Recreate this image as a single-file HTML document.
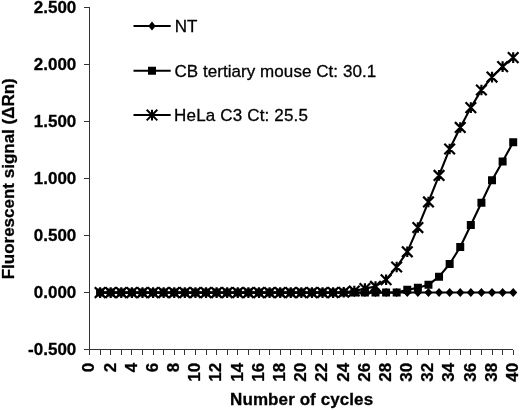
<!DOCTYPE html>
<html><head><meta charset="utf-8"><style>
html,body{margin:0;padding:0;background:#fff;width:520px;height:410px;overflow:hidden}
svg{display:block}
text{font-family:"Liberation Sans",sans-serif;stroke:#000;stroke-width:0.3px}
svg{filter:blur(0.35px)}
</style></head><body>
<svg width="520" height="410" viewBox="0 0 520 410">
<g stroke="#333" stroke-width="1" fill="none" shape-rendering="crispEdges">
<path d="M89.5 7.9V349.6H513.2"/>
<path d="M84 7.9H89.5"/>
<path d="M84 64.8H89.5"/>
<path d="M84 121.8H89.5"/>
<path d="M84 178.7H89.5"/>
<path d="M84 235.7H89.5"/>
<path d="M84 292.6H89.5"/>
<path d="M84 349.6H89.5"/>
<path d="M89.5 349.6V354.8"/>
<path d="M100.1 349.6V354.8"/>
<path d="M110.7 349.6V354.8"/>
<path d="M121.3 349.6V354.8"/>
<path d="M131.9 349.6V354.8"/>
<path d="M142.5 349.6V354.8"/>
<path d="M153.1 349.6V354.8"/>
<path d="M163.6 349.6V354.8"/>
<path d="M174.2 349.6V354.8"/>
<path d="M184.8 349.6V354.8"/>
<path d="M195.4 349.6V354.8"/>
<path d="M206.0 349.6V354.8"/>
<path d="M216.6 349.6V354.8"/>
<path d="M227.2 349.6V354.8"/>
<path d="M237.8 349.6V354.8"/>
<path d="M248.4 349.6V354.8"/>
<path d="M259.0 349.6V354.8"/>
<path d="M269.6 349.6V354.8"/>
<path d="M280.2 349.6V354.8"/>
<path d="M290.8 349.6V354.8"/>
<path d="M301.4 349.6V354.8"/>
<path d="M311.9 349.6V354.8"/>
<path d="M322.5 349.6V354.8"/>
<path d="M333.1 349.6V354.8"/>
<path d="M343.7 349.6V354.8"/>
<path d="M354.3 349.6V354.8"/>
<path d="M364.9 349.6V354.8"/>
<path d="M375.5 349.6V354.8"/>
<path d="M386.1 349.6V354.8"/>
<path d="M396.7 349.6V354.8"/>
<path d="M407.3 349.6V354.8"/>
<path d="M417.9 349.6V354.8"/>
<path d="M428.5 349.6V354.8"/>
<path d="M439.1 349.6V354.8"/>
<path d="M449.6 349.6V354.8"/>
<path d="M460.2 349.6V354.8"/>
<path d="M470.8 349.6V354.8"/>
<path d="M481.4 349.6V354.8"/>
<path d="M492.0 349.6V354.8"/>
<path d="M502.6 349.6V354.8"/>
<path d="M513.2 349.6V354.8"/>
</g>
<g font-family="Liberation Sans" font-weight="bold" font-size="17" fill="#000" text-anchor="end">
<text x="76.3" y="13.2">2.500</text>
<text x="76.3" y="70.1">2.000</text>
<text x="76.3" y="127.0">1.500</text>
<text x="76.3" y="184.0">1.000</text>
<text x="76.3" y="241.0">0.500</text>
<text x="76.3" y="297.9">0.000</text>
<text x="76.3" y="354.9">-0.500</text>
</g>
<g font-family="Liberation Sans" font-weight="bold" font-size="17" fill="#000" text-anchor="end">
<text transform="translate(94.3 362.9) rotate(-90)">0</text>
<text transform="translate(115.5 362.9) rotate(-90)">2</text>
<text transform="translate(136.7 362.9) rotate(-90)">4</text>
<text transform="translate(157.9 362.9) rotate(-90)">6</text>
<text transform="translate(179.0 362.9) rotate(-90)">8</text>
<text transform="translate(200.2 362.9) rotate(-90)">10</text>
<text transform="translate(221.4 362.9) rotate(-90)">12</text>
<text transform="translate(242.6 362.9) rotate(-90)">14</text>
<text transform="translate(263.8 362.9) rotate(-90)">16</text>
<text transform="translate(285.0 362.9) rotate(-90)">18</text>
<text transform="translate(306.2 362.9) rotate(-90)">20</text>
<text transform="translate(327.3 362.9) rotate(-90)">22</text>
<text transform="translate(348.5 362.9) rotate(-90)">24</text>
<text transform="translate(369.7 362.9) rotate(-90)">26</text>
<text transform="translate(390.9 362.9) rotate(-90)">28</text>
<text transform="translate(412.1 362.9) rotate(-90)">30</text>
<text transform="translate(433.3 362.9) rotate(-90)">32</text>
<text transform="translate(454.4 362.9) rotate(-90)">34</text>
<text transform="translate(475.6 362.9) rotate(-90)">36</text>
<text transform="translate(496.8 362.9) rotate(-90)">38</text>
<text transform="translate(518.0 362.9) rotate(-90)">40</text>
</g>
<text font-family="Liberation Sans" font-weight="bold" font-size="17" text-anchor="middle" x="301.6" y="404.7" textLength="143" lengthAdjust="spacing">Number of cycles</text>
<text font-family="Liberation Sans" font-weight="bold" font-size="17" text-anchor="middle" transform="translate(13.8 178.8) rotate(-90)">Fluorescent signal (ΔRn)</text>
<g fill="none" stroke="#000" stroke-width="2.1" stroke-linejoin="round">
<polyline points="100.09,292.49 110.69,292.49 121.28,292.49 131.87,292.49 142.46,292.49 153.06,292.49 163.65,292.49 174.24,292.49 184.83,292.49 195.43,292.49 206.02,292.49 216.61,292.49 227.20,292.49 237.80,292.49 248.39,292.49 258.98,292.49 269.57,292.49 280.17,292.49 290.76,292.49 301.35,292.49 311.94,292.49 322.54,292.49 333.13,292.49 343.72,292.49 354.31,292.49 364.91,292.49 375.50,292.49 386.09,292.49 396.68,292.49 407.28,292.49 417.87,292.49 428.46,292.49 439.05,292.49 449.65,292.49 460.24,292.49 470.83,292.49 481.42,292.49 492.02,292.49 502.61,292.49 513.20,292.49"/>
<polyline points="100.09,292.60 110.69,292.60 121.28,292.60 131.87,292.60 142.46,292.60 153.06,292.60 163.65,292.60 174.24,292.60 184.83,292.60 195.43,292.60 206.02,292.60 216.61,292.60 227.20,292.60 237.80,292.60 248.39,292.60 258.98,292.60 269.57,292.60 280.17,292.60 290.76,292.60 301.35,292.60 311.94,292.60 322.54,292.60 333.13,292.60 343.72,292.60 354.31,292.60 364.91,292.60 375.50,292.60 386.09,292.60 396.68,292.60 407.28,289.87 417.87,287.82 428.46,284.85 439.05,276.65 449.65,264.01 460.24,247.04 470.83,224.94 481.42,202.73 492.02,180.29 502.61,161.39 513.20,142.25"/>
<polyline points="100.09,292.60 110.69,292.60 121.28,292.60 131.87,292.60 142.46,292.60 153.06,292.60 163.65,292.60 174.24,292.60 184.83,292.60 195.43,292.60 206.02,292.60 216.61,292.60 227.20,292.60 237.80,292.60 248.39,292.60 258.98,292.60 269.57,292.60 280.17,292.60 290.76,292.60 301.35,292.60 311.94,292.60 322.54,292.60 333.13,292.60 343.72,292.26 354.31,291.01 364.91,288.61 375.50,286.45 386.09,279.73 396.68,266.97 407.28,251.82 417.87,227.56 428.46,201.94 439.05,175.40 449.65,148.97 460.24,127.45 470.83,107.63 481.42,89.97 492.02,77.10 502.61,66.62 513.20,57.62"/>
</g>
<path fill="#000" d="M100.09 288.09L104.19 292.49L100.09 296.89L95.99 292.49ZM110.69 288.09L114.78 292.49L110.69 296.89L106.59 292.49ZM121.28 288.09L125.38 292.49L121.28 296.89L117.18 292.49ZM131.87 288.09L135.97 292.49L131.87 296.89L127.77 292.49ZM142.46 288.09L146.56 292.49L142.46 296.89L138.36 292.49ZM153.06 288.09L157.16 292.49L153.06 296.89L148.96 292.49ZM163.65 288.09L167.75 292.49L163.65 296.89L159.55 292.49ZM174.24 288.09L178.34 292.49L174.24 296.89L170.14 292.49ZM184.83 288.09L188.93 292.49L184.83 296.89L180.73 292.49ZM195.43 288.09L199.53 292.49L195.43 296.89L191.33 292.49ZM206.02 288.09L210.12 292.49L206.02 296.89L201.92 292.49ZM216.61 288.09L220.71 292.49L216.61 296.89L212.51 292.49ZM227.20 288.09L231.30 292.49L227.20 296.89L223.10 292.49ZM237.80 288.09L241.90 292.49L237.80 296.89L233.70 292.49ZM248.39 288.09L252.49 292.49L248.39 296.89L244.29 292.49ZM258.98 288.09L263.08 292.49L258.98 296.89L254.88 292.49ZM269.57 288.09L273.67 292.49L269.57 296.89L265.47 292.49ZM280.17 288.09L284.27 292.49L280.17 296.89L276.06 292.49ZM290.76 288.09L294.86 292.49L290.76 296.89L286.66 292.49ZM301.35 288.09L305.45 292.49L301.35 296.89L297.25 292.49ZM311.94 288.09L316.04 292.49L311.94 296.89L307.84 292.49ZM322.54 288.09L326.64 292.49L322.54 296.89L318.44 292.49ZM333.13 288.09L337.23 292.49L333.13 296.89L329.03 292.49ZM343.72 288.09L347.82 292.49L343.72 296.89L339.62 292.49ZM354.31 288.09L358.41 292.49L354.31 296.89L350.21 292.49ZM364.91 288.09L369.01 292.49L364.91 296.89L360.81 292.49ZM375.50 288.09L379.60 292.49L375.50 296.89L371.40 292.49ZM386.09 288.09L390.19 292.49L386.09 296.89L381.99 292.49ZM396.68 288.09L400.78 292.49L396.68 296.89L392.58 292.49ZM407.28 288.09L411.38 292.49L407.28 296.89L403.18 292.49ZM417.87 288.09L421.97 292.49L417.87 296.89L413.77 292.49ZM428.46 288.09L432.56 292.49L428.46 296.89L424.36 292.49ZM439.05 288.09L443.15 292.49L439.05 296.89L434.95 292.49ZM449.65 288.09L453.75 292.49L449.65 296.89L445.55 292.49ZM460.24 288.09L464.34 292.49L460.24 296.89L456.14 292.49ZM470.83 288.09L474.93 292.49L470.83 296.89L466.73 292.49ZM481.42 288.09L485.52 292.49L481.42 296.89L477.32 292.49ZM492.02 288.09L496.12 292.49L492.02 296.89L487.92 292.49ZM502.61 288.09L506.71 292.49L502.61 296.89L498.51 292.49ZM513.20 288.09L517.30 292.49L513.20 296.89L509.10 292.49Z"/>
<path fill="#000" d="M96.09 288.60h8.00v8.00h-8.00ZM106.69 288.60h8.00v8.00h-8.00ZM117.28 288.60h8.00v8.00h-8.00ZM127.87 288.60h8.00v8.00h-8.00ZM138.46 288.60h8.00v8.00h-8.00ZM149.06 288.60h8.00v8.00h-8.00ZM159.65 288.60h8.00v8.00h-8.00ZM170.24 288.60h8.00v8.00h-8.00ZM180.83 288.60h8.00v8.00h-8.00ZM191.43 288.60h8.00v8.00h-8.00ZM202.02 288.60h8.00v8.00h-8.00ZM212.61 288.60h8.00v8.00h-8.00ZM223.20 288.60h8.00v8.00h-8.00ZM233.80 288.60h8.00v8.00h-8.00ZM244.39 288.60h8.00v8.00h-8.00ZM254.98 288.60h8.00v8.00h-8.00ZM265.57 288.60h8.00v8.00h-8.00ZM276.17 288.60h8.00v8.00h-8.00ZM286.76 288.60h8.00v8.00h-8.00ZM297.35 288.60h8.00v8.00h-8.00ZM307.94 288.60h8.00v8.00h-8.00ZM318.54 288.60h8.00v8.00h-8.00ZM329.13 288.60h8.00v8.00h-8.00ZM339.72 288.60h8.00v8.00h-8.00ZM350.31 288.60h8.00v8.00h-8.00ZM360.91 288.60h8.00v8.00h-8.00ZM371.50 288.60h8.00v8.00h-8.00ZM382.09 288.60h8.00v8.00h-8.00ZM392.68 288.60h8.00v8.00h-8.00ZM403.28 285.87h8.00v8.00h-8.00ZM413.87 283.82h8.00v8.00h-8.00ZM424.46 280.85h8.00v8.00h-8.00ZM435.05 272.65h8.00v8.00h-8.00ZM445.65 260.01h8.00v8.00h-8.00ZM456.24 243.04h8.00v8.00h-8.00ZM466.83 220.94h8.00v8.00h-8.00ZM477.42 198.73h8.00v8.00h-8.00ZM488.02 176.29h8.00v8.00h-8.00ZM498.61 157.39h8.00v8.00h-8.00ZM509.20 138.25h8.00v8.00h-8.00Z"/>
<path fill="none" stroke="#000" stroke-width="2.2" d="M94.79 287.30L105.39 297.90M105.39 287.30L94.79 297.90M100.09 287.30L100.09 297.90M105.39 287.30L115.98 297.90M115.98 287.30L105.39 297.90M110.69 287.30L110.69 297.90M115.98 287.30L126.58 297.90M126.58 287.30L115.98 297.90M121.28 287.30L121.28 297.90M126.57 287.30L137.17 297.90M137.17 287.30L126.57 297.90M131.87 287.30L131.87 297.90M137.16 287.30L147.76 297.90M147.76 287.30L137.16 297.90M142.46 287.30L142.46 297.90M147.75 287.30L158.36 297.90M158.36 287.30L147.75 297.90M153.06 287.30L153.06 297.90M158.35 287.30L168.95 297.90M168.95 287.30L158.35 297.90M163.65 287.30L163.65 297.90M168.94 287.30L179.54 297.90M179.54 287.30L168.94 297.90M174.24 287.30L174.24 297.90M179.53 287.30L190.13 297.90M190.13 287.30L179.53 297.90M184.83 287.30L184.83 297.90M190.12 287.30L200.73 297.90M200.73 287.30L190.12 297.90M195.43 287.30L195.43 297.90M200.72 287.30L211.32 297.90M211.32 287.30L200.72 297.90M206.02 287.30L206.02 297.90M211.31 287.30L221.91 297.90M221.91 287.30L211.31 297.90M216.61 287.30L216.61 297.90M221.90 287.30L232.50 297.90M232.50 287.30L221.90 297.90M227.20 287.30L227.20 297.90M232.50 287.30L243.10 297.90M243.10 287.30L232.50 297.90M237.80 287.30L237.80 297.90M243.09 287.30L253.69 297.90M253.69 287.30L243.09 297.90M248.39 287.30L248.39 297.90M253.68 287.30L264.28 297.90M264.28 287.30L253.68 297.90M258.98 287.30L258.98 297.90M264.27 287.30L274.87 297.90M274.87 287.30L264.27 297.90M269.57 287.30L269.57 297.90M274.87 287.30L285.47 297.90M285.47 287.30L274.87 297.90M280.17 287.30L280.17 297.90M285.46 287.30L296.06 297.90M296.06 287.30L285.46 297.90M290.76 287.30L290.76 297.90M296.05 287.30L306.65 297.90M306.65 287.30L296.05 297.90M301.35 287.30L301.35 297.90M306.64 287.30L317.24 297.90M317.24 287.30L306.64 297.90M311.94 287.30L311.94 297.90M317.24 287.30L327.84 297.90M327.84 287.30L317.24 297.90M322.54 287.30L322.54 297.90M327.83 287.30L338.43 297.90M338.43 287.30L327.83 297.90M333.13 287.30L333.13 297.90M338.42 286.96L349.02 297.56M349.02 286.96L338.42 297.56M343.72 286.96L343.72 297.56M349.01 285.71L359.61 296.31M359.61 285.71L349.01 296.31M354.31 285.71L354.31 296.31M359.61 283.31L370.21 293.91M370.21 283.31L359.61 293.91M364.91 283.31L364.91 293.91M370.20 281.15L380.80 291.75M380.80 281.15L370.20 291.75M375.50 281.15L375.50 291.75M380.79 274.43L391.39 285.03M391.39 274.43L380.79 285.03M386.09 274.43L386.09 285.03M391.38 261.67L401.98 272.27M401.98 261.67L391.38 272.27M396.68 261.67L396.68 272.27M401.98 246.52L412.58 257.12M412.58 246.52L401.98 257.12M407.28 246.52L407.28 257.12M412.57 222.26L423.17 232.86M423.17 222.26L412.57 232.86M417.87 222.26L417.87 232.86M423.16 196.64L433.76 207.24M433.76 196.64L423.16 207.24M428.46 196.64L428.46 207.24M433.75 170.10L444.35 180.70M444.35 170.10L433.75 180.70M439.05 170.10L439.05 180.70M444.35 143.67L454.95 154.27M454.95 143.67L444.35 154.27M449.65 143.67L449.65 154.27M454.94 122.15L465.54 132.75M465.54 122.15L454.94 132.75M460.24 122.15L460.24 132.75M465.53 102.33L476.13 112.93M476.13 102.33L465.53 112.93M470.83 102.33L470.83 112.93M476.12 84.67L486.72 95.27M486.72 84.67L476.12 95.27M481.42 84.67L481.42 95.27M486.72 71.80L497.32 82.40M497.32 71.80L486.72 82.40M492.02 71.80L492.02 82.40M497.31 61.32L507.91 71.92M507.91 61.32L497.31 71.92M502.61 61.32L502.61 71.92M507.90 52.32L518.50 62.92M518.50 52.32L507.90 62.92M513.20 52.32L513.20 62.92"/>
<g fill="none" stroke="#000" stroke-width="2">
<path d="M133.5 26.0H170.7"/>
<path d="M133.5 70.8H170.7"/>
<path d="M133.5 115.1H170.7"/>
</g>
<path fill="#000" d="M152.00 21.60L155.70 26.10L152.00 30.60L148.30 26.10ZM148.00 66.80h8.00v8.00h-8.00Z"/>
<path fill="none" stroke="#000" stroke-width="2" d="M146.70 109.80L157.30 120.40M157.30 109.80L146.70 120.40M152.00 109.80L152.00 120.40"/>
<g font-family="Liberation Sans" font-size="17" fill="#000">
<text x="174.7" y="31.6">NT</text>
<text x="174.4" y="76.5" textLength="201.8" lengthAdjust="spacing">CB tertiary mouse Ct: 30.1</text>
<text x="174.1" y="120.7" textLength="133.8" lengthAdjust="spacing">HeLa C3 Ct: 25.5</text>
</g>
</svg>
</body></html>
